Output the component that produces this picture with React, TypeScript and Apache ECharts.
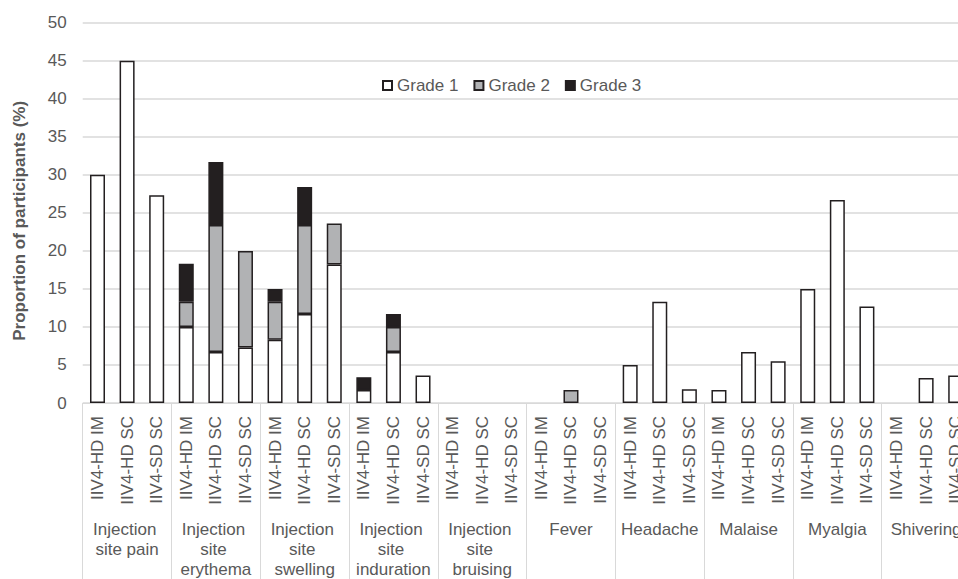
import React, { useEffect, useRef } from "react";
import * as echarts from "echarts";

const groups = [
  "Injection site pain",
  "Injection site erythema",
  "Injection site swelling",
  "Injection site induration",
  "Injection site bruising",
  "Fever",
  "Headache",
  "Malaise",
  "Myalgia",
  "Shivering",
];
const vaccines = ["IIV4-HD IM", "IIV4-HD SC", "IIV4-SD SC"];

// values per (group, vaccine) in order; null = no bar
const grade1 = [
  30, 45, 27.3,
  10, 6.7, 7.3,
  8.3, 11.7, 18.2,
  1.7, 6.7, 3.6,
  null, null, null,
  null, null, null,
  5, 13.3, 1.8,
  1.7, 6.7, 5.5,
  15, 26.7, 12.7,
  null, 3.3, 3.6,
];
const grade2 = [
  null, null, null,
  3.3, 16.7, 12.7,
  5, 11.7, 5.4,
  null, 3.3, null,
  null, null, null,
  null, 1.7, null,
  null, null, null,
  null, null, null,
  null, null, null,
  null, null, null,
];
const grade3 = [
  null, null, null,
  5, 8.3, null,
  1.7, 5, null,
  1.7, 1.7, null,
  null, null, null,
  null, null, null,
  null, null, null,
  null, null, null,
  null, null, null,
  null, null, null,
];
const yTicks = { min: 0, max: 50, interval: 5 };

const FONT = "'Liberation Sans', Arial, sans-serif";
const TEXT = "#595959";
const GRID = "#d9d9d9";
const EDGE = "#231f20";

export default function App() {
  const ref = useRef<HTMLDivElement>(null);
  useEffect(() => {
    if (!ref.current) return;
    const chart = echarts.init(ref.current, undefined, { renderer: "svg" });
    const categories = groups.flatMap(() => vaccines);
    chart.setOption({
      animation: false,
      textStyle: { fontFamily: FONT },
      grid: { left: 82.7, top: 22.7, right: 9.5, bottom: 173 },
      legend: {
        data: ["Grade 1", "Grade 2", "Grade 3"],
        left: 377,
        top: 72,
        icon: "rect",
        itemWidth: 9,
        itemHeight: 9,
        itemGap: 15,
        textStyle: { fontSize: 17, color: TEXT, fontFamily: FONT },
      },
      xAxis: [
        {
          type: "category",
          data: categories,
          position: "bottom",
          axisLine: { show: true, lineStyle: { color: GRID, width: 1 } },
          axisTick: { show: false },
          axisLabel: {
            interval: 0,
            rotate: 90,
            margin: 13,
            fontSize: 17,
            color: TEXT,
            fontFamily: FONT,
          },
        },
        {
          type: "category",
          data: groups,
          position: "bottom",
          axisLine: { show: false },
          axisTick: {
            show: true,
            interval: 0,
            length: 176,
            lineStyle: { color: GRID, width: 1 },
          },
          axisLabel: {
            interval: 0,
            margin: 116,
            fontSize: 17,
            lineHeight: 20,
            color: TEXT,
            fontFamily: FONT,
            width: 86,
            overflow: "break",
          },
        },
      ],
      yAxis: {
        type: "value",
        min: yTicks.min,
        max: yTicks.max,
        interval: yTicks.interval,
        name: "Proportion of participants (%)",
        nameLocation: "middle",
        nameGap: 55,
        nameTextStyle: {
          fontSize: 17,
          fontWeight: "bold",
          color: TEXT,
          fontFamily: FONT,
          padding: [0, 16, 0, 0],
        },
        axisLine: { show: false },
        axisTick: { show: false },
        axisLabel: { fontSize: 17, color: TEXT, margin: 16, fontFamily: FONT },
        splitLine: { lineStyle: { color: GRID, width: 1.5 } },
      },
      series: [
        {
          name: "Grade 1",
          type: "bar",
          stack: "g",
          barWidth: 15,
          data: grade1,
          itemStyle: { color: "#ffffff", borderColor: EDGE, borderWidth: 1.5 },
        },
        {
          name: "Grade 2",
          type: "bar",
          stack: "g",
          barWidth: 15,
          data: grade2,
          itemStyle: { color: "#b1b2b4", borderColor: EDGE, borderWidth: 1.5 },
        },
        {
          name: "Grade 3",
          type: "bar",
          stack: "g",
          barWidth: 15,
          data: grade3,
          itemStyle: { color: EDGE, borderColor: EDGE, borderWidth: 1.5 },
        },
      ],
    });
    return () => chart.dispose();
  }, []);
  return (
    <div
      style={{
        position: "fixed",
        left: 0,
        top: 0,
        width: 958,
        height: 579,
        overflow: "hidden",
        background: "#fff",
      }}
    >
      <div ref={ref} style={{ width: 980, height: 579 }} />
    </div>
  );
}
